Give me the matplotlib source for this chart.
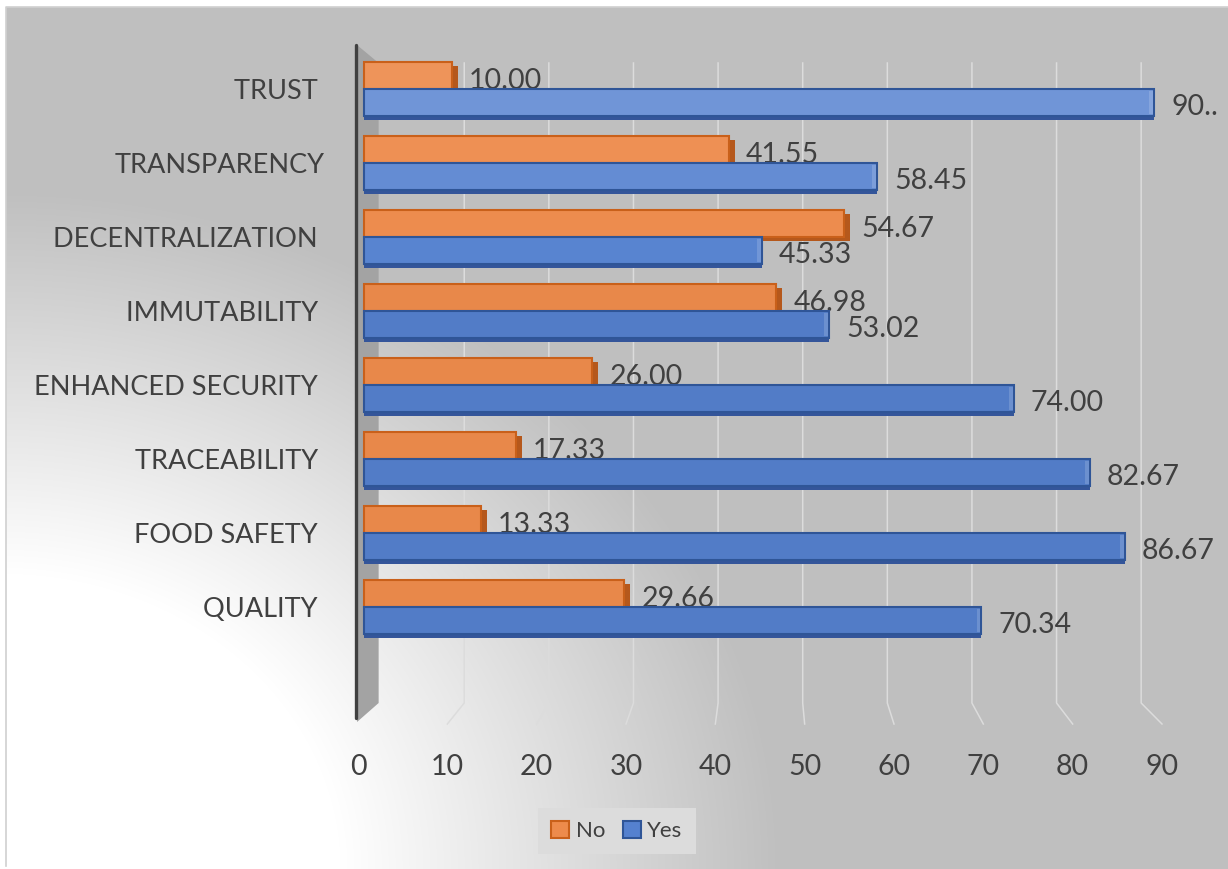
import numpy as np
import matplotlib
matplotlib.use('Agg')
import matplotlib.pyplot as plt
from matplotlib.patches import Patch, Polygon, Rectangle
from matplotlib import colors as mcolors

plt.rcParams['font.family'] = ['Lato', 'DejaVu Sans']

# Данные
categories = ['TRUST ', 'TRANSPARENCY', 'DECENTRALIZATION ', 'IMMUTABILITY ',
              'ENHANCED SECURITY ', 'TRACEABILITY ', 'FOOD SAFETY ', 'QUALITY ']
no_values = [10.00, 41.55, 54.67, 46.98, 26.00, 17.33, 13.33, 29.66]
yes_values = [90.00, 58.45, 45.33, 53.02, 74.00, 82.67, 86.67, 70.34]
x_ticks = [0, 10, 20, 30, 40, 50, 60, 70, 80, 90]

W, H = 1228, 869
TEXT = '#404040'
ORANGE, ORANGE_EDGE, ORANGE_DARK = '#ED8B4C', '#C9601A', '#B5581C'
BLUE, BLUE_EDGE, BLUE_DARK = '#5581CF', '#2F5597', '#34559A'


def shade(c, f):
    rgb = np.array(mcolors.to_rgb(c))
    if f >= 0:
        return tuple(rgb + (1 - rgb) * f)
    return tuple(rgb * (1 + f))


fig = plt.figure(figsize=(W / 100, H / 100), dpi=100)

# фон с радиальным градиентом из левого нижнего угла
bg = fig.add_axes([0, 0, 1, 1], zorder=-10)
yy, xx = np.mgrid[0:H, 0:W]
r = np.sqrt(xx ** 2 + ((H - yy) * 1.15) ** 2)
t = np.clip((r - 340) / (780 - 340), 0, 1)
val = 1.0 - t * (1.0 - 0.75)
img = np.dstack([val, val, val])
img[:7, :, :] = 1.0
img[:, :6, :] = 1.0
bg.imshow(img, extent=(0, W, H, 0), aspect='auto', interpolation='bilinear')
bg.plot([6, 6, W], [H - 3, 7, 7], color='#d0d0d0', lw=1.2)
bg.set_xlim(0, W)
bg.set_ylim(H, 0)
bg.axis('off')

# основная область: 0 -> x=358px, 90 -> x=1162px
ax = fig.add_axes([358 / W, 1 - 718 / H, 804 / W, 673 / H])
ax.patch.set_alpha(0)
for s in ax.spines.values():
    s.set_visible(False)
ax.set_xlim(0, 90)
ax.set_ylim((718 - 89) / 74, (45 - 89) / 74)

ppx = 804 / 90   # пикселей на единицу по x
ppy = 74         # пикселей на категорию


def dx(px):
    return px / ppx


def dy(py):
    return py / ppy


# боковая стенка и ось
wall = Polygon([(dx(351 - 358), dy(45 - 89)), (dx(373 - 358), dy(63 - 89)),
                (dx(373 - 358), dy(703 - 89)), (dx(351 - 358), dy(722 - 89))],
               closed=True, facecolor='#a3a3a3', edgecolor='none', clip_on=False, zorder=1)
ax.add_patch(wall)
ax.plot([dx(-8), dx(-8)], [dy(45 - 89), dy(718 - 89)], color='#404040', lw=2.4,
        solid_capstyle='round', clip_on=False, zorder=2)

# сетка в перспективе: задняя стенка и «ножка» к передней плоскости
for v in x_ticks[1:]:
    xb = dx(374 + 8.61 * v - 358)
    xf = dx(352 + 9.09 * v - 358)
    ax.plot([xb, xb, xf], [dy(63 - 89), dy(703 - 89), dy(724 - 89)],
            color='#dcdcdc', lw=1.1, clip_on=False, zorder=1.5)

ax.set_xticks([dx(352 + 9.09 * v - 358) for v in x_ticks])
ax.set_xticklabels([str(v) for v in x_ticks])
ax.tick_params(axis='x', length=0, pad=26, labelsize=20.5, labelcolor=TEXT)

ypos = np.arange(len(categories))
ax.set_yticks(ypos)
ax.set_yticklabels(categories)
ax.tick_params(axis='y', length=0, pad=24, labelsize=19.5, labelcolor=TEXT)

bar_h = 0.36
off = 0.185
ddx, ddy = dx(6), dy(4)

for i, (n, y) in enumerate(zip(no_values, yes_values)):
    f = max(0.16 - 0.07 * i, -0.04)
    # Нет (оранжевый): тёмная боковая грань справа
    yc = i - off
    ax.add_patch(Rectangle((0, yc - bar_h / 2 + ddy), n + ddx, bar_h,
                           facecolor=ORANGE_DARK, edgecolor='none', zorder=3))
    ax.barh(yc, n, height=bar_h, color=shade(ORANGE, f * 0.5), edgecolor=ORANGE_EDGE,
            linewidth=1.5, zorder=4)
    ax.annotate(f'{n:.2f}', xy=(n + ddx, yc), xytext=(8, -4), textcoords='offset points',
                va='center', ha='left', fontsize=20.5, color=TEXT, zorder=5)
    # Да (синий): тёмная нижняя грань и светлый скос на конце
    yc = i + off
    ax.add_patch(Rectangle((0, yc - bar_h / 2 + ddy), y, bar_h,
                           facecolor=BLUE_DARK, edgecolor='none', zorder=6))
    face = shade(BLUE, f)
    ax.barh(yc, y, height=bar_h, color=face, edgecolor=BLUE_EDGE,
            linewidth=1.5, zorder=7)
    ax.add_patch(Rectangle((y - dx(5), yc - bar_h / 2 + dy(2)), dx(4), bar_h - dy(4),
                           facecolor=shade(face, 0.15), edgecolor='none', zorder=7.5))
    lab = f'{y:.2f}' if y < 88 else f'{y:.0f}..'
    ax.annotate(lab, xy=(y + ddx, yc), xytext=(8, -3), textcoords='offset points',
                va='center', ha='left', fontsize=20.5, color=TEXT, zorder=8)

handles = [Patch(facecolor=ORANGE, edgecolor=ORANGE_EDGE, linewidth=1.5, label='No'),
           Patch(facecolor=BLUE, edgecolor=BLUE_EDGE, linewidth=1.5, label='Yes')]
leg = fig.legend(handles=handles, loc='center', bbox_to_anchor=(617 / W, 1 - 831 / H),
                 ncol=2, fontsize=16, frameon=True, fancybox=False, framealpha=1,
                 facecolor='#dcdcdc', edgecolor='none', handlelength=0.8, handleheight=0.8,
                 handletextpad=0.3, columnspacing=0.8, borderpad=0.6)
for txt in leg.get_texts():
    txt.set_color(TEXT)

plt.savefig('out.png', dpi=100)
